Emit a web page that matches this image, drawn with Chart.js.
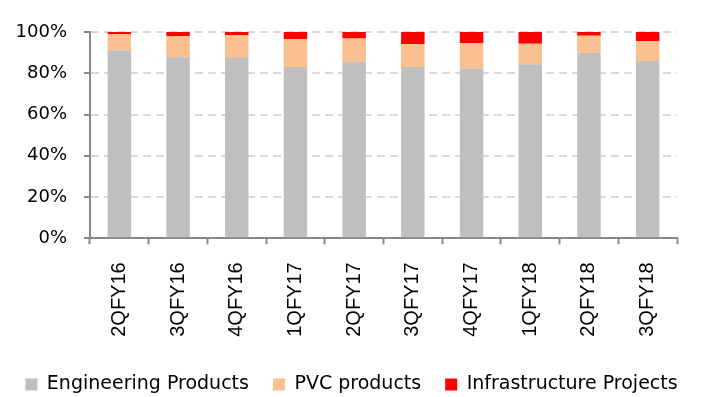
<!DOCTYPE html>
<html>
<head>
<meta charset="utf-8">
<script src="https://cdn.jsdelivr.net/npm/chart.js@4/dist/chart.umd.min.js"></script>
<style>
  html, body { margin: 0; padding: 0; background: #fff; overflow: hidden; }
  #wrap { width: 703px; height: 404px; }
</style>
</head>
<body>
<div id="wrap"><canvas id="mixChart" width="703" height="404"></canvas></div>
<script>
// Revenue mix by quarter (share of total, %)
const quarters = ["2QFY16", "3QFY16", "4QFY16", "1QFY17", "2QFY17", "3QFY17", "4QFY17", "1QFY18", "2QFY18", "3QFY18"];
const engineeringProducts = [91.2, 87.8, 87.8, 83.0, 85.4, 83.0, 82.2, 84.4, 90.0, 85.9];
const pvcProducts = [7.8, 10.3, 10.7, 13.6, 11.5, 11.2, 12.3, 9.9, 8.2, 9.6];
const infraProjects = [1.0, 1.9, 1.5, 3.4, 3.1, 5.8, 5.5, 5.7, 1.8, 4.5];
const yTicks = [0, 20, 40, 60, 80, 100];

document.addEventListener("DOMContentLoaded", () => {
  const ctx = document.getElementById("mixChart").getContext("2d");

  new Chart(ctx, {
    type: "bar",
    data: {
      labels: quarters,
      datasets: [
        { label: "Engineering Products", data: engineeringProducts, backgroundColor: "#bfbfbf" },
        { label: "PVC products", data: pvcProducts, backgroundColor: "#fac090" },
        { label: "Infrastructure Projects", data: infraProjects, backgroundColor: "#ff0000" },
      ],
    },
    options: {
      responsive: false,
      animation: false,
      datasets: {
        bar: { categoryPercentage: 1, barPercentage: 0.4 },
      },
      layout: {
        padding: { top: 32, right: 0, left: 0, bottom: 0 },
      },
      scales: {
        x: {
          stacked: true,
          grid: {
            offset: true,
            drawOnChartArea: false,
            tickLength: 6,
            tickColor: "#888888",
            tickWidth: 2,
          },
          border: { color: "#888888", width: 2 },
          ticks: {
            minRotation: 90,
            maxRotation: 90,
            padding: 18,
            color: "#000000",
            font: { family: "'Liberation Sans', Arial, sans-serif", size: 20 },
          },
          afterFit: (scale) => {
            scale.height = 112.7;
          },
        },
        y: {
          stacked: true,
          min: 0,
          max: 100,
          afterBuildTicks: (scale) => {
            scale.ticks = yTicks.map((v) => ({ value: v }));
          },
          grid: {
            color: (c) => (c.tick && c.tick.value === 0 ? "rgba(0,0,0,0)" : "#d9d9d9"),
            lineWidth: 2,
            tickLength: 6,
            tickColor: "#888888",
            tickWidth: 2,
          },
          border: { color: "#888888", width: 2, dash: [8, 5] },
          ticks: {
            padding: 17,
            color: "#000000",
            font: { family: "'DejaVu Sans', sans-serif", size: 18 },
            callback: (v) => v + "%",
          },
          afterFit: (scale) => {
            scale.width = 90;
          },
        },
        // empty right axis, only keeps the right margin of the plot
        yRight: {
          position: "right",
          display: true,
          grid: { display: false },
          border: { display: false },
          ticks: { display: false },
          afterFit: (scale) => {
            scale.width = 26;
          },
        },
      },
      plugins: {
        tooltip: { enabled: false },
        legend: {
          position: "bottom",
          labels: {
            boxWidth: 12,
            boxHeight: 12,
            padding: 24,
            color: "#000000",
            font: { family: "'DejaVu Sans', sans-serif", size: 19 },
          },
        },
      },
    },
  });
});
</script>
</body>
</html>
